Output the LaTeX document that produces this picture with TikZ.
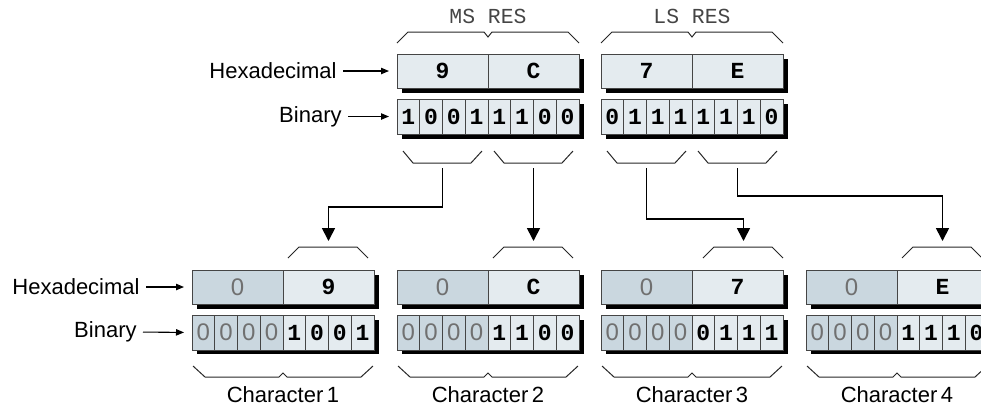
\documentclass[tikz,border=0pt]{standalone}
\usepackage{fontspec}
\setmainfont{Liberation Sans}
\newfontfamily\codefont{Liberation Mono}
\usetikzlibrary{arrows.meta}
\definecolor{celllight}{HTML}{E4EBEF}
\definecolor{celldark}{HTML}{CAD7DF}
\definecolor{cellline}{HTML}{454545}
\definecolor{padtext}{HTML}{707070}
\definecolor{regtext}{HTML}{454545}
\tikzset{
  cellbox/.style={draw=cellline, line width=0.5pt, inner sep=0pt, outer sep=0pt, anchor=north west},
  hexcell/.style={cellbox, fill=celllight, minimum width=45.5pt, minimum height=17pt,
    font=\codefont\bfseries\fontsize{11.5}{11}\selectfont},
  hexpad/.style={hexcell, fill=celldark, text=padtext, font=\fontsize{12}{11}\selectfont},
  bitcell/.style={cellbox, fill=celllight, minimum width=11.375pt, minimum height=17.5pt,
    font=\codefont\bfseries\fontsize{11.5}{11}\selectfont},
  bitpad/.style={bitcell, fill=celldark, text=padtext, font=\fontsize{12}{11}\selectfont},
  shadowbox/.style={fill=black},
  brace/.style={draw=black!85, line width=0.5pt},
  reglabel/.style={text=regtext, font=\codefont\fontsize{10.7}{11}\selectfont},
  charlabel/.style={font=\fontsize{11}{13}\selectfont},
  sidelabel/.style={inner sep=0pt, anchor=east, font=\fontsize{11}{13}\selectfont},
  pointer/.style={-{Triangle[length=4pt,width=3.2pt]}, line width=0.55pt, shorten <=3pt, shorten >=4pt},
  link/.style={-{Triangle[length=6.5pt,width=6.5pt]}, line width=0.85pt}
}
\begin{document}
\begin{tikzpicture}[x=0.5pt, y=-0.5pt]
\clip (0,0) rectangle (981,408);
% register pair
\foreach \nm/\x/\hi/\lo/\bits/\lbl in {ms/397/9/C/{1,0,0,1,1,1,0,0}/MS RES, ls/601/7/E/{0,1,1,1,1,1,1,0}/LS RES} {
  \fill[shadowbox] ({\x+5},59) rectangle ({\x+187},93);
  \fill[shadowbox] ({\x+5},104) rectangle ({\x+187},139);
  \node[hexcell] (\nm-hi) at (\x,54) {\hi};
  \node[hexcell] (\nm-lo) at ({\x+91},54) {\lo};
  \foreach \b [count=\i] in \bits
    \node[bitcell] (\nm-b\i) at ({\x+(\i-1)*22.75},99) {\b};
  \draw[brace] (\x,43) -- ({\x+11},32) -- ({\x+87},32) -- ({\x+91},37) -- ({\x+95},32) -- ({\x+171},32) -- ({\x+182},43);
  \node[reglabel] (\nm-lbl) at ({\x+91},16) {\lbl};
}
% nibble braces
\foreach \x [count=\k] in {397,488,601,692} {
  \draw[brace] ({\x+6},151) -- ({\x+16},163) -- ({\x+74},163) -- ({\x+85},151);
  \coordinate (t\k) at ({\x+45.5},168);
}
% characters
\foreach \nm/\x/\hx/\bits/\n/\dx in {c1/192/9/{1,0,0,1}/1/0, c2/397/C/{1,1,0,0}/2/0, c3/601/7/{0,1,1,1}/3/6, c4/806/E/{1,1,1,0}/4/0} {
  \fill[shadowbox] ({\x+5},275) rectangle ({\x+187},309);
  \fill[shadowbox] ({\x+5},320) rectangle ({\x+187},354);
  \node[hexpad] (\nm-pad) at (\x,270) {0};
  \node[hexcell] (\nm-hex) at ({\x+91},270) {\hx};
  \foreach \i in {1,...,4}
    \node[bitpad] (\nm-p\i) at ({\x+(\i-1)*22.75},315) {0};
  \foreach \b [count=\i from 5] in \bits
    \node[bitcell] (\nm-b\i) at ({\x+(\i-1)*22.75},315) {\b};
  \draw[brace] ({\x+96+\dx},258) -- ({\x+107+\dx},247) -- ({\x+165+\dx},247) -- ({\x+176+\dx},258);
  \coordinate (d\n) at ({\x+136.5+\dx},241);
  \draw[brace] ({\x+1},366) -- ({\x+13},377) -- ({\x+87},377) -- ({\x+91},373) -- ({\x+95},377) -- ({\x+169},377) -- ({\x+181},366);
  \node[charlabel] (\nm-lbl) at ({\x+91},395) {Character\,\n};
}
% nibble moves
\draw[link] (t1) -- ++(0,39) -| (d1);
\draw[link] (t2) -- (d2);
\draw[link] (t3) -- ++(0,51) -| (d3);
\draw[link] (t4) -- ++(0,28) -| (d4);
% row labels
\node[sidelabel] (hex-top) at (337,71) {Hexadecimal};
\node[sidelabel] (bin-top) at (342,116.5) {Binary};
\node[sidelabel] (hex-bot) at (140,287) {Hexadecimal};
\node[sidelabel] (bin-bot) at (137,332) {Binary};
\draw[pointer] (hex-top.east) -- (ms-hi.west);
\draw[pointer] (bin-top.east) -- (ms-b1.west);
\draw[pointer] (hex-bot.east) -- (c1-pad.west);
\draw[pointer] (bin-bot.east) -- (c1-p1.west);
\end{tikzpicture}
\end{document}
